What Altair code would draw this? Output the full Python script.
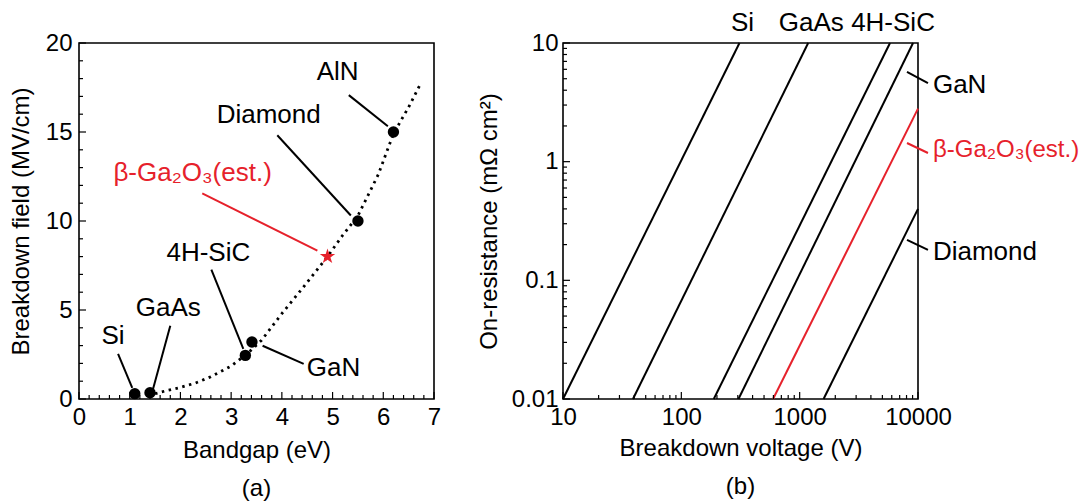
import altair as alt
import pandas as pd

FONT = "Liberation Sans"
FS = 24      # axis text
FA = 26      # annotation text
RED = "#e6212b"
W, H = 355, 356
STAR = ("M0,-1 L0.2245,-0.309 L0.951,-0.309 L0.363,0.118 L0.588,0.809 L0,0.382 "
        "L-0.588,0.809 L-0.363,0.118 L-0.951,-0.309 L-0.2245,-0.309 Z")

# ---------------- panel (a) data ----------------
mat_a = ["Si", "GaAs", "4H-SiC", "GaN", "Diamond", "AlN"]
eg_a = [1.1, 1.4, 3.28, 3.41, 5.5, 6.2]
eb_a = [0.3, 0.35, 2.45, 3.2, 10.0, 15.0]
ga_eg = [4.9]
ga_eb = [8.0]

curve_eg = [1.5, 1.7, 2.0, 2.3, 2.6, 3.0, 3.3, 3.6, 4.0, 4.4, 4.9, 5.2, 5.5, 5.9, 6.2, 6.5, 6.75]
curve_eb = [0.3, 0.45, 0.65, 0.9, 1.25, 1.85, 2.5, 3.3, 4.8, 6.2, 8.0, 9.2, 10.3, 12.6, 14.9, 16.4, 17.8]

lab_a_text = ["Si", "GaAs", "4H-SiC", "GaN", "Diamond", "AlN", "β-Ga₂O₃(est.)"]
lab_a_x = [0.67, 1.76, 2.55, 5.02, 3.74, 5.10, 2.24]
lab_a_y = [3.55, 5.13, 8.23, 1.75, 15.94, 18.37, 12.68]
lab_a_col = ["black"] * 6 + [RED]
lead_a_x1 = [0.77, 1.80, 2.61, 3.62, 3.91, 5.32, 2.43]
lead_a_y1 = [2.54, 4.11, 7.27, 2.99, 14.82, 17.07, 11.55]
lead_a_x2 = [1.05, 1.46, 3.24, 4.43, 5.36, 6.09, 4.70]
lead_a_y2 = [0.62, 0.56, 2.82, 1.97, 10.31, 15.32, 8.34]

xa_major = [0, 1, 2, 3, 4, 5, 6, 7]
xa_minor = [round(i * 0.2, 1) for i in range(36) if i % 5 != 0]
ya_major = [0, 5, 10, 15, 20]
ya_minor = [i for i in range(21) if i % 5 != 0]

# ---------------- panel (b) data ----------------
mat_b = ["Si", "GaAs", "4H-SiC", "GaN", "β-Ga₂O₃", "Diamond"]
v_start = [10, 39, 188, 304, 596, 1592]
r_start = [0.01, 0.01, 0.01, 0.01, 0.01, 0.01]
v_end = [310, 1180, 5800, 9080, 10000, 10000]
r_end = [10, 10, 10, 10, 2.8, 0.4]
col_b = ["black", "black", "black", "black", RED, "black"]

top_text = ["Si", "GaAs", "4H-SiC"]
top_v = [329, 1253, 6150]
top_r = [14.7, 14.7, 14.7]

side_text = ["GaN", "β-Ga₂O₃(est.)", "Diamond"]
side_v = [13370, 13370, 13370]
side_r = [4.43, 1.254, 0.1734]
side_col = ["black", RED, "black"]
side_fs = [FA, FS, FA]
side_v1 = [8070, 8070, 8070]
side_r1 = [5.70, 1.436, 0.2189]
side_v2 = [12140, 12140, 12140]
side_r2 = [4.60, 1.183, 0.1803]

xb_major = [10, 100, 1000, 10000]
xb_minor = [m * d for d in (10, 100, 1000) for m in range(2, 10)]
yb_major = [0.01, 0.1, 1, 10]
yb_minor = [round(m * d, 4) for d in (0.01, 0.1, 1) for m in range(2, 10)]


def tick_layers(xs_major, xs_minor, ys_major, ys_minor, xscale, yscale):
    layers = []
    for vals, ln in ((xs_major, 7), (xs_minor, 4)):
        df = pd.DataFrame({"tv": vals})
        layers.append(
            alt.Chart(df).mark_rule(color="black", strokeWidth=1.2).encode(
                x=alt.X("tv:Q", scale=xscale),
                y=alt.value(H),
                y2=alt.value(H - ln),
            )
        )
    for vals, ln in ((ys_major, 7), (ys_minor, 4)):
        df = pd.DataFrame({"tv": vals})
        layers.append(
            alt.Chart(df).mark_rule(color="black", strokeWidth=1.2).encode(
                y=alt.Y("tv:Q", scale=yscale),
                x=alt.value(0),
                x2=alt.value(ln),
            )
        )
    return layers


axis_common = dict(
    labelFont=FONT, labelFontSize=FS, labelColor="black", labelFlush=False,
    labelOverlap=False,
    titleFont=FONT, titleFontSize=FS, titleColor="black", titleFontWeight="normal",
    ticks=False, domain=False, grid=False,
)

# ---------------- panel (a) ----------------
xs_a = alt.Scale(domain=[0, 7], nice=False)
ys_a = alt.Scale(domain=[0, 20], nice=False)

curve_df = pd.DataFrame({"eg": curve_eg, "eb": curve_eb})
curve = alt.Chart(curve_df).mark_line(
    color="black", strokeWidth=2.8, strokeDash=[2.5, 4.5]
).encode(
    x=alt.X("eg:Q", scale=xs_a, title="Bandgap (eV)",
            axis=alt.Axis(values=xa_major, format="d", labelPadding=6, titlePadding=9, **axis_common)),
    y=alt.Y("eb:Q", scale=ys_a, title="Breakdown field (MV/cm)",
            axis=alt.Axis(values=ya_major, format="d", labelPadding=7, titlePadding=12, **axis_common)),
)

lead_a_df = pd.DataFrame({"ax": lead_a_x1, "ay": lead_a_y1, "bx": lead_a_x2,
                          "by": lead_a_y2, "col": lab_a_col})
leads_a = alt.Chart(lead_a_df).mark_rule(strokeWidth=2).encode(
    x=alt.X("ax:Q", scale=xs_a), y=alt.Y("ay:Q", scale=ys_a),
    x2="bx:Q", y2="by:Q", color=alt.Color("col:N", scale=None),
)

pts_df = pd.DataFrame({"eg": eg_a, "eb": eb_a, "mat": mat_a})
pts = alt.Chart(pts_df).mark_circle(size=130, color="black", opacity=1).encode(
    x=alt.X("eg:Q", scale=xs_a), y=alt.Y("eb:Q", scale=ys_a)
)
star_df = pd.DataFrame({"eg": ga_eg, "eb": ga_eb})
star = alt.Chart(star_df).mark_point(
    shape=STAR, size=260, filled=True, color=RED, opacity=1
).encode(x=alt.X("eg:Q", scale=xs_a), y=alt.Y("eb:Q", scale=ys_a))

lab_a_df = pd.DataFrame({"t": lab_a_text, "px": lab_a_x, "py": lab_a_y, "col": lab_a_col})
labs_a = alt.Chart(lab_a_df).mark_text(
    font=FONT, fontSize=FA, align="center", baseline="middle"
).encode(
    x=alt.X("px:Q", scale=xs_a), y=alt.Y("py:Q", scale=ys_a),
    text="t:N", color=alt.Color("col:N", scale=None),
)

panel_a = alt.layer(
    curve, leads_a, pts, star, labs_a,
    *tick_layers(xa_major, xa_minor, ya_major, ya_minor, xs_a, ys_a),
).properties(
    width=W, height=H,
    title=alt.Title("(a)", orient="bottom", font=FONT, fontSize=FS,
                    fontWeight="normal", anchor="middle", offset=15, color="black"),
)

# ---------------- panel (b) ----------------
xs_b = alt.Scale(type="log", domain=[10, 10000], nice=False)
ys_b = alt.Scale(type="log", domain=[0.01, 10], nice=False)

rows = []
for m, v1, r1, v2, r2, c in zip(mat_b, v_start, r_start, v_end, r_end, col_b):
    rows.append({"mat": m, "v": v1, "r": r1, "col": c})
    rows.append({"mat": m, "v": v2, "r": r2, "col": c})
lines_df = pd.DataFrame(rows)
lines_b = alt.Chart(lines_df).mark_line(strokeWidth=2).encode(
    x=alt.X("v:Q", scale=xs_b, title="Breakdown voltage (V)",
            axis=alt.Axis(values=xb_major, format="~g", labelPadding=6, titlePadding=7, **axis_common)),
    y=alt.Y("r:Q", scale=ys_b, title="On-resistance (mΩ cm²)",
            axis=alt.Axis(values=yb_major, format="~g", labelPadding=5, titlePadding=10, **axis_common)),
    detail="mat:N",
    color=alt.Color("col:N", scale=None),
)

top_df = pd.DataFrame({"t": top_text, "v": top_v, "r": top_r})
top_labs = alt.Chart(top_df).mark_text(
    font=FONT, fontSize=FA, align="center", baseline="middle", color="black"
).encode(x=alt.X("v:Q", scale=xs_b), y=alt.Y("r:Q", scale=ys_b), text="t:N")

side_df = pd.DataFrame({"t": side_text, "v": side_v, "r": side_r, "col": side_col, "fs": side_fs,
                        "va": side_v1, "ra": side_r1, "vb": side_v2, "rb": side_r2})
side_labs = alt.Chart(side_df).mark_text(
    font=FONT, align="left", baseline="middle"
).encode(
    x=alt.X("v:Q", scale=xs_b), y=alt.Y("r:Q", scale=ys_b),
    text="t:N", color=alt.Color("col:N", scale=None),
    size=alt.Size("fs:Q", scale=None),
)
side_leads = alt.Chart(side_df).mark_rule(strokeWidth=2).encode(
    x=alt.X("va:Q", scale=xs_b), y=alt.Y("ra:Q", scale=ys_b),
    x2="vb:Q", y2="rb:Q", color=alt.Color("col:N", scale=None),
)

panel_b = alt.layer(
    lines_b, top_labs, side_leads, side_labs,
    *tick_layers(xb_major, xb_minor, yb_major, yb_minor, xs_b, ys_b),
).properties(
    width=W, height=H,
    title=alt.Title("(b)", orient="bottom", font=FONT, fontSize=FS,
                    fontWeight="normal", anchor="middle", offset=15, color="black"),
)

chart = alt.hconcat(panel_a, panel_b, spacing=129, bounds="flush").properties(
    padding={"left": 0, "top": 1, "right": 0, "bottom": 0}
).configure_view(stroke="black", strokeWidth=1.6)

chart.save("out.html", embed_options={"renderer": "svg", "actions": False})
